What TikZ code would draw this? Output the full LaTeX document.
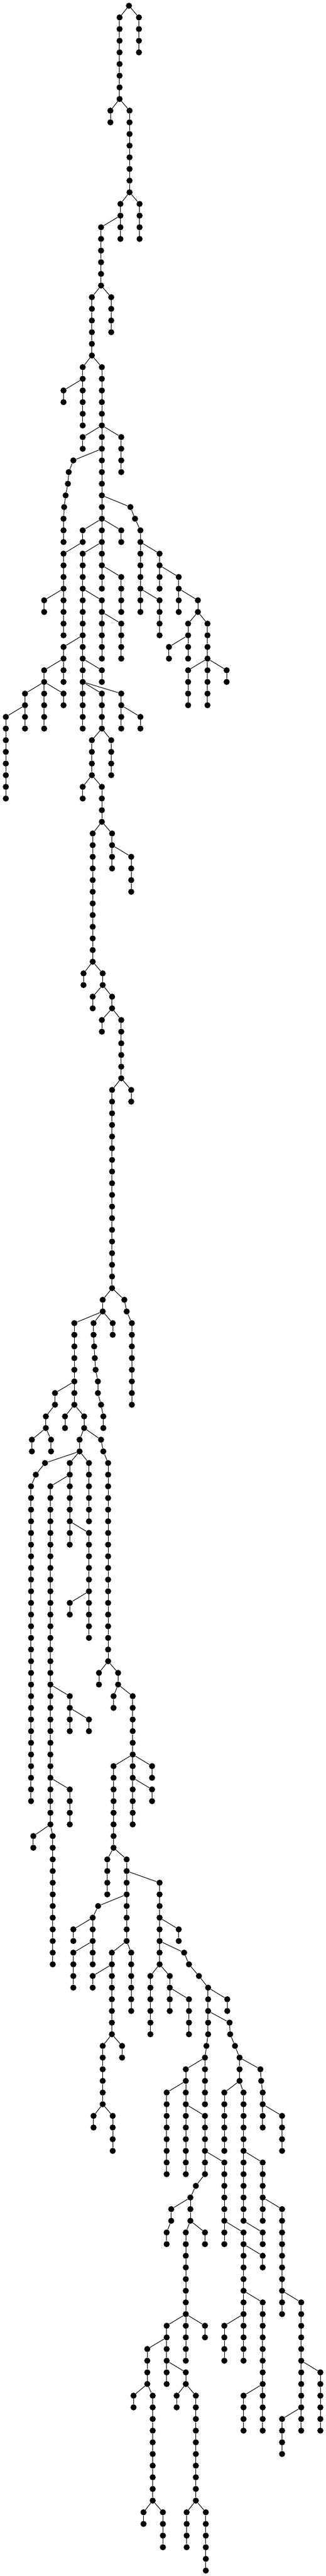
\documentclass[tikz,border=0pt]{standalone}
\begin{document}
\begin{tikzpicture}[x=0.3623pt,y=-20.27pt,
    dot/.style={circle,fill=black,draw=none,inner sep=0pt,minimum size=10.6pt},
    edge/.style={black,line width=1pt}]
  \useasboundingbox (0,-0.4933) rectangle (1562.2,220.47);
  \node[dot] (n0-619) at (619,0) {};
  % chains: column / first level / last level / column of the parent
  \foreach \cx/\cs/\ce/\cp in {
      667/1/4/619, 574/1/8/619, 530/9/10/574, 622/9/16/574,
      578/17/20/622, 670/17/20/622, 485/19/24/578,
      441/25/30/485, 534/25/28/485, 397/31/36/441, 305/33/34/397,
      489/31/50/441, 397/37/38/489, 582/37/40/489,
      352/39/39/489, 330/40/40/352, 326/41/41/330, 315/42/42/326,
      308/43/43/315, 305/44/46/308,
      626/43/43/489, 648/44/44/626, 674/45/52/648,
      582/45/46/489, 397/45/46/489, 305/47/54/397, 212/51/52/305,
      397/47/62/489, 489/51/56/397, 582/53/56/489, 582/49/52/489,
      766/47/50/674, 858/49/52/766, 950/51/52/858,
      903/53/56/950, 996/53/60/950, 903/57/60/996, 1088/57/58/996,
      811/55/56/903, 766/51/54/674,
      305/55/58/397, 212/57/62/305, 305/59/60/212, 120/59/62/212,
      28/61/68/120, 489/57/58/397, 489/59/62/397, 582/59/62/397,
      674/61/62/582, 534/63/66/489, 441/63/66/489,
      397/67/68/441, 489/67/70/441,
      445/71/82/489, 538/71/74/489, 630/73/76/538,
      401/83/84/445, 493/83/84/445, 445/85/86/493, 538/85/86/493,
      489/87/88/538, 582/87/92/538, 630/93/94/582, 538/93/110/582,
      597/111/111/538, 608/112/112/597, 633/113/120/608,
      493/111/112/538, 541/113/114/493,
      449/113/114/493, 452/115/115/449, 455/116/116/452,
      459/117/117/455, 470/118/119/459, 485/120/120/470, 496/121/122/485,
      357/113/120/493, 264/119/120/357, 220/121/122/264,
      153/123/124/220, 245/123/124/220,
      312/121/122/357, 404/121/122/357, 382/123/124/404,
      485/123/123/404, 496/124/124/485, 519/125/142/496,
      216/125/125/382, 172/126/126/216, 149/127/154/172,
      335/125/132/382, 427/125/130/382, 242/127/156/335,
      427/131/140/335, 335/137/138/427,
      335/145/148/242, 427/147/148/335, 335/153/156/242,
      160/157/158/242, 253/157/168/242,
      475/143/144/519, 567/143/144/519, 545/145/146/567,
      637/145/156/567, 730/151/152/637, 730/153/154/637,
      545/151/158/637, 515/159/162/545, 608/159/166/545,
      630/167/172/608, 537/167/174/608, 445/169/170/537,
      586/175/176/537, 493/175/180/537,
      449/181/182/493, 541/181/184/493,
      471/163/163/608, 445/164/168/471,
      352/165/166/445, 352/167/170/445,
      766/161/168/608, 858/165/166/766,
      722/169/174/766, 815/169/172/766, 907/171/174/815,
      884/167/167/766, 907/168/168/884, 955/169/169/907,
      999/170/174/955, 991/175/175/999, 984/176/180/991,
      1091/171/172/999, 1102/173/173/999, 1105/174/174/1102,
      1128/175/175/1105, 1150/176/178/1128,
      892/177/186/984, 800/179/186/892, 984/181/186/892,
      940/187/187/984, 914/188/190/940,
      822/189/190/914, 800/191/192/822,
      984/191/192/914, 892/191/198/914,
      800/199/204/892, 892/199/202/892, 984/199/200/892,
      707/201/204/800, 641/205/206/707, 733/205/214/707,
      689/215/216/733, 782/215/218/733,
      892/203/204/800, 848/205/206/892, 940/205/214/892,
      896/215/218/940, 988/215/220/940,
      1077/185/192/984, 1169/191/202/1077,
      1261/193/194/1169, 1261/197/208/1169,
      1169/205/208/1261, 1077/199/202/1169,
      1077/179/184/1150, 1169/179/190/1150,
      1261/185/190/1169, 1354/189/198/1261,
      1446/197/208/1354, 1538/203/208/1446, 1354/207/210/1446,
      1261/191/192/1169,
      1250/177/177/1150, 1254/178/178/1250,
      1261/179/182/1254, 1354/181/184/1261} {
    \foreach \l in {\cs,...,\ce} {
      \pgfmathtruncatemacro\k{\l-1}
      \ifnum\l=\cs\relax \edef\q{\cp}\else \edef\q{\cx}\fi
      \node[dot] (n\l-\cx) at (\cx,\l) {};
      \draw[edge] (n\k-\q) -- (n\l-\cx);
    }
  }
\end{tikzpicture}
\end{document}
